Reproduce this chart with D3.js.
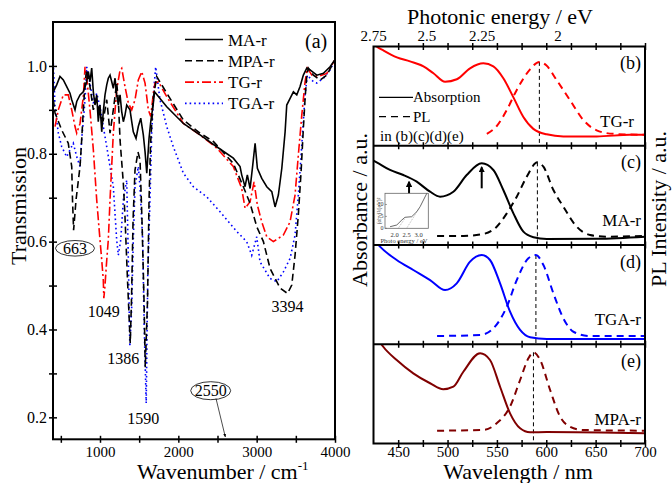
<!DOCTYPE html>
<html lang="en">
<head>
<meta charset="utf-8">
<title>FTIR / Absorption / PL</title>
<script src="https://cdn.jsdelivr.net/npm/d3@7"></script>
<style>
    body, html { margin: 0; padding: 0; background: #fff; }
    svg { display: block; font-family: "Liberation Serif", "Times New Roman", serif; }
    .frame { fill: none; stroke: #000; stroke-width: 2px; }
    .axis path { display: none; }
    .axis line { stroke: #000; stroke-width: 1.5px; }
    .axis text { font-size: 16px; font-family: "Liberation Serif", serif; fill: #000; }
    .xaxis text { font-size: 15px; }
    .title { font-size: 22px; fill: #000; }
    .lbl { font-size: 17px; fill: #000; }
    .ann { font-size: 16px; fill: #000; }
</style>
</head>
<body>
<script>
// ---- left panel: FTIR spectra [wavenumber, transmission] ----
var maIR = [[404,0.941],[447,0.957],[489,0.976],[532,0.968],[575,0.953],[617,0.938],[639,0.923],[681,0.900],[703,0.919],[745,0.934],[787,0.941],[830,0.964],[851,0.987],[872,0.964],[894,0.995],[915,0.941],[936,0.911],[958,0.934],[978,0.873],[1000,0.911],[1022,0.850],[1042,0.896],[1064,0.934],[1086,0.957],[1106,0.972],[1128,0.979],[1150,0.964],[1170,0.949],[1192,0.972],[1213,0.934],[1234,0.911],[1256,0.934],[1277,0.896],[1298,0.873],[1319,0.888],[1341,0.911],[1383,0.900],[1405,0.873],[1425,0.850],[1460,0.835],[1489,0.862],[1520,0.881],[1553,0.843],[1575,0.805],[1597,0.756],[1626,0.835],[1648,0.873],[1681,0.915],[1696,0.941],[1852,0.907],[2064,0.869],[2277,0.843],[2490,0.816],[2702,0.790],[2788,0.771],[2809,0.752],[2852,0.725],[2881,0.752],[2916,0.721],[2950,0.774],[2980,0.824],[3009,0.767],[3065,0.744],[3129,0.725],[3193,0.714],[3235,0.679],[3277,0.706],[3321,0.767],[3363,0.850],[3384,0.911],[3427,0.926],[3469,0.941],[3512,0.934],[3554,0.953],[3596,0.979],[3640,0.995],[3682,0.991],[3768,0.979],[3852,0.983],[3937,0.998],[4000,1.014]];
var mpaIR = [[404,0.923],[426,0.893],[511,0.854],[595,0.824],[639,0.771],[649,0.695],[663,0.626],[694,0.695],[745,0.771],[766,0.831],[787,0.900],[809,0.961],[830,0.991],[872,0.953],[915,0.900],[958,0.923],[1000,0.885],[1042,0.877],[1086,0.923],[1128,0.847],[1170,0.900],[1213,0.961],[1234,0.923],[1256,0.831],[1298,0.733],[1319,0.657],[1351,0.513],[1386,0.369],[1402,0.467],[1422,0.649],[1447,0.763],[1485,0.804],[1511,0.786],[1536,0.649],[1562,0.467],[1578,0.314],[1607,0.467],[1626,0.695],[1645,0.820],[1677,0.923],[1724,0.976],[1852,0.938],[2064,0.877],[2277,0.847],[2447,0.828],[2702,0.778],[2830,0.725],[2916,0.687],[3001,0.634],[3086,0.600],[3171,0.539],[3299,0.494],[3394,0.482],[3448,0.501],[3490,0.569],[3532,0.661],[3567,0.759],[3596,0.858],[3618,0.926],[3640,0.979],[3660,0.995],[3724,0.979],[3810,0.968],[3895,0.979],[4000,1.014]];
var tgIR = [[426,0.862],[468,0.900],[532,0.934],[595,0.934],[639,0.900],[681,0.862],[703,0.847],[745,0.869],[787,0.930],[809,0.998],[838,0.961],[872,0.900],[915,0.809],[958,0.695],[1000,0.604],[1022,0.558],[1042,0.513],[1049,0.471],[1064,0.501],[1086,0.558],[1106,0.604],[1128,0.695],[1170,0.847],[1213,0.945],[1256,0.991],[1277,0.995],[1319,0.953],[1362,0.915],[1405,0.900],[1447,0.923],[1489,0.968],[1533,0.987],[1575,0.961],[1617,0.900],[1648,0.885],[1681,0.938],[1702,0.961],[1745,0.964],[1852,0.930],[2064,0.869],[2277,0.843],[2490,0.813],[2702,0.771],[2809,0.721],[2852,0.676],[2916,0.691],[2967,0.736],[3009,0.683],[3065,0.645],[3129,0.611],[3213,0.600],[3341,0.615],[3426,0.645],[3490,0.706],[3532,0.797],[3576,0.888],[3618,0.964],[3647,0.995],[3704,0.979],[3788,0.976],[3895,0.983],[4000,1.014]];
var tgaIR = [[404,1.006],[426,0.907],[468,0.847],[511,0.816],[575,0.793],[617,0.809],[659,0.824],[703,0.793],[745,0.771],[766,0.831],[809,0.923],[830,0.998],[872,0.961],[915,0.915],[958,0.938],[1000,0.907],[1042,0.862],[1086,0.816],[1128,0.771],[1170,0.725],[1213,0.604],[1234,0.569],[1265,0.604],[1298,0.695],[1341,0.740],[1362,0.558],[1381,0.361],[1405,0.452],[1425,0.604],[1447,0.725],[1489,0.771],[1511,0.725],[1545,0.604],[1562,0.421],[1590,0.232],[1610,0.528],[1638,0.695],[1660,0.847],[1690,0.953],[1711,0.998],[1766,0.923],[1852,0.862],[1936,0.816],[2064,0.756],[2192,0.725],[2363,0.702],[2533,0.668],[2746,0.623],[2873,0.600],[2937,0.569],[3001,0.611],[3043,0.554],[3171,0.516],[3257,0.509],[3341,0.531],[3427,0.562],[3490,0.615],[3532,0.706],[3576,0.820],[3618,0.934],[3647,0.979],[3724,0.964],[3768,0.961],[3852,0.972],[3937,0.991],[4000,1.014]];
var irNames = ["MA-r", "MPA-r", "TG-r", "TGA-r"];
var irTicks = [500, 1000, 1500, 2000, 2500, 3000, 3500, 4000];
var tTicks = [0.2, 0.3, 0.4, 0.5, 0.6, 0.7, 0.8, 0.9, 1.0];

// ---- right panels: [wavelength nm, normalised intensity] ----
var tgAbs = [[425,1.03],[428.2,1.0],[435,0.96],[448.7,0.89],[462,0.85],[475.6,0.80],[485.7,0.73],[497.5,0.645],[509.4,0.67],[522.8,0.78],[536.3,0.83],[546.4,0.80],[556.5,0.68],[566.6,0.49],[576.8,0.29],[586.9,0.17],[600.4,0.115],[617.3,0.094],[651,0.094],[684.8,0.11],[700,0.11]];
var tgPL = [[539.8,0.12],[550,0.2],[560,0.36],[570,0.56],[583.6,0.77],[593,0.845],[600,0.81],[610.6,0.66],[624,0.46],[637.5,0.26],[651,0.155],[668,0.12],[700,0.11]];
var maAbs = [[425,0.85],[428.2,0.833],[441.7,0.756],[455.2,0.705],[468.8,0.638],[482.3,0.537],[492.4,0.487],[505.9,0.537],[519.4,0.705],[534.6,0.823],[546.4,0.756],[556.5,0.554],[566.7,0.319],[576.8,0.134],[587,0.078],[600.5,0.06],[651.2,0.063],[700,0.084]];
var maPL = [[489.4,0.091],[516.3,0.091],[536.3,0.111],[549.8,0.184],[560,0.319],[570.1,0.487],[580.2,0.688],[591,0.833],[597.1,0.789],[607.2,0.554],[617.3,0.386],[630.9,0.184],[644.4,0.101],[661.3,0.084],[700,0.091]];
var tgaAbs = [[425,1.06],[431.6,0.983],[448.5,0.849],[465.3,0.748],[482.3,0.647],[497.5,0.547],[509.3,0.614],[522.8,0.832],[534.6,0.899],[543,0.849],[553.2,0.614],[563.3,0.328],[573.5,0.144],[583.6,0.07],[600.5,0.053],[700,0.053]];
var tgaPL = [[489.4,0.083],[533,0.093],[546.4,0.16],[560,0.378],[570.1,0.647],[581.9,0.866],[589.4,0.899],[597.1,0.798],[607.2,0.513],[617.3,0.261],[627.5,0.126],[644.4,0.083],[700,0.083]];
var mpaAbs = [[431,1.03],[434.9,0.975],[448.5,0.841],[465.3,0.707],[482.3,0.607],[495.7,0.546],[505.9,0.572],[516,0.723],[533,0.909],[543,0.841],[553.2,0.572],[563.3,0.304],[573.5,0.153],[583.6,0.113],[600.5,0.116],[700,0.103]];
var mpaPL = [[489.4,0.129],[536.3,0.136],[549.8,0.204],[563.3,0.372],[573.5,0.64],[581.9,0.858],[587,0.919],[593.8,0.841],[603.9,0.539],[614,0.27],[624.1,0.169],[637.6,0.136],[700,0.129]];
var panelNames = ["TG-r", "MA-r", "TGA-r", "MPA-r"];
var panelTags = ["(b)", "(c)", "(d)", "(e)"];
var plPeaks = [593, 591, 589.5, 587];
var nmTicks = [450, 475, 500, 525, 550, 575, 600, 625, 650, 675, 700];
var eVTicks = [2.75, 2.5, 2.25, 2];
var eVAsNm = [425, 479, 535, 612];   // where the top labels sit on the nm axis
var arrowNm = [461, 534.6];

// ---- inset of (c): (alpha h nu)^2 vs photon energy ----
var insetCurve = [[1.81,0.67],[2.09,1.39],[2.30,3.49],[2.43,4.62],[2.71,4.87],[2.92,6.97],[3.06,9.08],[3.20,11.9],[3.34,14.7]];
var insetFit1 = [[2.15,0],[2.43,4.2]];
var insetFit2 = [[2.50,0],[3.06,9.1]];

var W = 672, H = 483;
var svg = d3.select("body").append("svg").attr("width", W).attr("height", H);

var defs = svg.append("defs");
defs.append("marker").attr("id", "ah").attr("viewBox", "0 0 10 10")
    .attr("refX", 9).attr("refY", 5).attr("markerWidth", 5).attr("markerHeight", 5)
    .attr("orient", "auto")
    .append("path").attr("d", "M0,1L10,5L0,9Z").attr("fill", "#000");
defs.append("marker").attr("id", "ahBig").attr("viewBox", "0 0 10 10")
    .attr("refX", 8).attr("refY", 5).attr("markerWidth", 3.2).attr("markerHeight", 3.2)
    .attr("orient", "auto")
    .append("path").attr("d", "M0,0L10,5L0,10Z").attr("fill", "#000");

// ================= LEFT PANEL =================
var xL = d3.scaleLinear().domain([400, 4000]).range([53, 335]);
var yL = d3.scaleLinear().domain([0.15, 1.1]).range([439.3, 22]);

defs.append("clipPath").attr("id", "clipL").append("rect")
    .attr("x", 53).attr("y", 22).attr("width", 282).attr("height", 417.3);

var lineL = d3.line().x(function(d) { return xL(d[0]); }).y(function(d) { return yL(d[1]); });

var irStyles = [
    {data: maIR,  color: "#000", dash: null,          w: 1.6},
    {data: mpaIR, color: "#000", dash: "7,4",         w: 1.6},
    {data: tgIR,  color: "#ff0000", dash: "9,3,2,3",  w: 1.6},
    {data: tgaIR, color: "#0000ff", dash: "1.6,3",    w: 1.6}
];

var gL = svg.append("g").attr("clip-path", "url(#clipL)");
// draw back to front so the solid MA-r trace sits on top
[3, 2, 1, 0].forEach(function(i) {
    var s = irStyles[i];
    gL.append("path").datum(s.data)
        .attr("d", lineL)
        .attr("fill", "none")
        .attr("stroke", s.color)
        .attr("stroke-width", s.w)
        .attr("stroke-dasharray", s.dash);
});

svg.append("rect").attr("class", "frame")
    .attr("x", 53).attr("y", 22).attr("width", 282).attr("height", 417.3);

var axL = svg.append("g").attr("class", "axis xaxis").attr("transform", "translate(0,439.3)")
    .call(d3.axisBottom(xL).tickValues(irTicks).tickFormat(function(d) { return d % 1000 ? "" : d; }));
axL.selectAll(".tick line").attr("y1", -3.5).attr("y2", 3.5);
axL.selectAll(".tick text").attr("y", 7);

var ayL = svg.append("g").attr("class", "axis").attr("transform", "translate(53,0)")
    .call(d3.axisLeft(yL).tickValues(tTicks).tickFormat(function(d) {
        return Math.round(d * 10) % 2 ? "" : d3.format(".1f")(d);
    }));
ayL.selectAll(".tick line").attr("x1", -4).attr("x2", 4);
ayL.selectAll(".tick text").attr("x", -6);

svg.append("text").attr("class", "title")
    .attr("transform", "translate(26,206) rotate(-90)")
    .attr("text-anchor", "middle").text("Transmission");

var xt = svg.append("text").attr("class", "title").attr("font-size", 21).attr("x", 137).attr("y", 479);
xt.append("tspan").text("Wavenumber / cm");
xt.append("tspan").attr("dy", -9).attr("font-size", 13).text("-1");

// legend
irStyles.forEach(function(s, i) {
    var y = 39.5 + i * 21.3;
    svg.append("line").attr("x1", 185).attr("x2", 223).attr("y1", y).attr("y2", y)
        .attr("stroke", s.color).attr("stroke-width", s.w).attr("stroke-dasharray", s.dash);
    svg.append("text").attr("class", "lbl").attr("x", 228).attr("y", y + 6).text(irNames[i]);
});
svg.append("text").attr("x", 305).attr("y", 48).attr("font-size", 20).text("(a)");

// band annotations
svg.append("ellipse").attr("cx", xL(663) + 1.4).attr("cy", 248.3).attr("rx", 19.5).attr("ry", 7.8)
    .attr("fill", "none").attr("stroke", "#000").attr("stroke-width", 0.8);
svg.append("text").attr("class", "ann").attr("x", xL(663) + 1.4).attr("y", 253.8)
    .attr("text-anchor", "middle").attr("font-size", 15).text("663");
svg.append("text").attr("class", "ann").attr("x", xL(1049)).attr("y", 317.2).attr("text-anchor", "middle").text("1049");
svg.append("text").attr("class", "ann").attr("x", xL(1386) - 7).attr("y", 363.8).attr("text-anchor", "middle").text("1386");
svg.append("text").attr("class", "ann").attr("x", xL(1590) - 3).attr("y", 424).attr("text-anchor", "middle").text("1590");
svg.append("text").attr("class", "ann").attr("x", xL(3394)).attr("y", 312.2).attr("text-anchor", "middle").text("3394");
svg.append("ellipse").attr("cx", 210.7).attr("cy", 390.7).attr("rx", 20).attr("ry", 9)
    .attr("fill", "none").attr("stroke", "#000").attr("stroke-width", 0.8);
svg.append("text").attr("class", "ann").attr("x", 210.7).attr("y", 396.3)
    .attr("text-anchor", "middle").attr("font-size", 15).text("2550");
svg.append("line").attr("x1", 216).attr("y1", 398.5).attr("x2", xL(2600)).attr("y2", 437)
    .attr("stroke", "#000").attr("stroke-width", 0.7).attr("marker-end", "url(#ah)");

// ================= RIGHT PANELS =================
var xR = d3.scaleLinear().domain([425, 700]).range([373.5, 645]);
var pTop = 46.5, pH = 99.25;
var energyToNm = d3.scaleLinear().domain(eVTicks).range(eVAsNm);

var panels = [
    {abs: tgAbs,  pl: tgPL,  color: "#ff0000"},
    {abs: maAbs,  pl: maPL,  color: "#000000"},
    {abs: tgaAbs, pl: tgaPL, color: "#0000ff"},
    {abs: mpaAbs, pl: mpaPL, color: "#800000"}
];

panels.forEach(function(p, i) {
    var top = pTop + i * pH;
    var y = d3.scaleLinear().domain([0, 1]).range([top + pH, top]);
    var line = d3.line().curve(d3.curveMonotoneX)
        .x(function(d) { return xR(d[0]); }).y(function(d) { return y(d[1]); });

    defs.append("clipPath").attr("id", "clipP" + i).append("rect")
        .attr("x", 373.5).attr("y", top).attr("width", 271.5).attr("height", pH);
    var g = svg.append("g").attr("clip-path", "url(#clipP" + i + ")");

    // PL peak marker
    var peakV = d3.max(p.pl, function(d) { return d[1]; });
    g.append("line").attr("x1", xR(plPeaks[i])).attr("x2", xR(plPeaks[i]))
        .attr("y1", y(peakV)).attr("y2", top + pH)
        .attr("stroke", "#000").attr("stroke-width", 1).attr("stroke-dasharray", "4,3");

    g.append("path").datum(p.abs).attr("d", line)
        .attr("fill", "none").attr("stroke", p.color).attr("stroke-width", 2);
    g.append("path").datum(p.pl).attr("d", line)
        .attr("fill", "none").attr("stroke", p.color).attr("stroke-width", 2)
        .attr("stroke-dasharray", "7,5");

    svg.append("text").attr("x", 641).attr("y", top + 22.5).attr("font-size", 18)
        .attr("text-anchor", "end").text(panelTags[i]);
    svg.append("text").attr("class", "lbl").attr("x", i === 0 ? 634 : 641).attr("y", top + pH - 19)
        .attr("text-anchor", "end").text(panelNames[i]);

    // ticks along the upper edge of every sub-panel
    var ax = svg.append("g").attr("class", "axis").attr("transform", "translate(0," + top + ")")
        .call(d3.axisTop(xR).tickValues(nmTicks).tickFormat(""));
    ax.selectAll(".tick line").attr("y1", -3.5).attr("y2", 3.5);
    if (i > 0) {
        svg.append("line").attr("x1", 373.5).attr("x2", 645).attr("y1", top).attr("y2", top)
            .attr("stroke", "#000").attr("stroke-width", 2);
    }

    if (i === 0) {
        // legend for line styles
        var lg = [{t: "Absorption", d: null, yy: 97.3}, {t: "PL", d: "7,5", yy: 116.7}];
        lg.forEach(function(l) {
            svg.append("line").attr("x1", 379).attr("x2", 413).attr("y1", l.yy).attr("y2", l.yy)
                .attr("stroke", "#000").attr("stroke-width", 1.3).attr("stroke-dasharray", l.d);
            svg.append("text").attr("x", 413).attr("y", l.yy + 5).attr("font-size", 15).text(l.t);
        });
        svg.append("text").attr("x", 380).attr("y", 141).attr("font-size", 15).text("in (b)(c)(d)(e)");
    }

    if (i === 1) {
        // arrows at the excitonic features
        var absAt = d3.scaleLinear().domain(p.abs.map(function(d) { return d[0]; }))
            .range(p.abs.map(function(d) { return d[1]; }));
        arrowNm.forEach(function(nm) {
            var yc = y(absAt(nm));
            svg.append("line").attr("x1", xR(nm)).attr("x2", xR(nm))
                .attr("y1", yc + 25).attr("y2", yc + 4)
                .attr("stroke", "#000").attr("stroke-width", 2).attr("marker-end", "url(#ahBig)");
        });

        // inset
        var ix = d3.scaleLinear().domain([1.6, 3.4]).range([385, 428.3]);
        var iy = d3.scaleLinear().domain([0, 14.7]).range([228.3, 193.3]);
        var il = d3.line().x(function(d) { return ix(d[0]); }).y(function(d) { return iy(d[1]); });
        var gi = svg.append("g");
        gi.append("rect").attr("x", 385).attr("y", 193.3).attr("width", 43.3).attr("height", 35)
            .attr("fill", "#fff").attr("stroke", "#666").attr("stroke-width", 0.8);
        gi.append("path").datum(insetCurve).attr("d", il).attr("fill", "none")
            .attr("stroke", "#444").attr("stroke-width", 0.8);
        [insetFit1, insetFit2].forEach(function(f) {
            gi.append("path").datum(f).attr("d", il).attr("fill", "none")
                .attr("stroke", "#888").attr("stroke-width", 0.6).attr("stroke-dasharray", "1,1");
        });
        [0, 5, 10].forEach(function(v) {
            gi.append("text").attr("x", 383.5).attr("y", iy(v) + 2).attr("font-size", 6)
                .attr("text-anchor", "end").attr("fill", "#333").text(v);
            gi.append("line").attr("x1", 385).attr("x2", 387).attr("y1", iy(v)).attr("y2", iy(v))
                .attr("stroke", "#666").attr("stroke-width", 0.6);
        });
        [2.0, 2.5, 3.0].forEach(function(v) {
            gi.append("text").attr("x", ix(v)).attr("y", 236.5).attr("font-size", 6.5)
                .attr("text-anchor", "middle").attr("fill", "#333").text(d3.format(".1f")(v));
        });
        gi.append("text").attr("x", 404).attr("y", 243).attr("font-size", 6.5)
            .attr("text-anchor", "middle").attr("fill", "#333").text("Photo energy / eV");
        gi.append("text").attr("transform", "translate(381,211) rotate(-90)").attr("font-size", 5.5)
            .attr("text-anchor", "middle").attr("fill", "#333").text("(\u03b1h\u03bd)\u00b2/(eV)\u00b2");
    }
});

svg.append("rect").attr("class", "frame")
    .attr("x", 373.5).attr("y", pTop).attr("width", 271.5).attr("height", 4 * pH);

var axR = svg.append("g").attr("class", "axis xaxis").attr("transform", "translate(0," + (pTop + 4 * pH) + ")")
    .call(d3.axisBottom(xR).tickValues(nmTicks).tickFormat(function(d) { return d % 50 ? "" : d; }));
axR.selectAll(".tick line").attr("y1", -3.5).attr("y2", 3.5);
axR.selectAll(".tick text").attr("y", 3);

// photon energy labels on top
svg.selectAll(".ev").data(eVTicks).enter().append("text")
    .attr("class", "ev").attr("x", function(d) { return xR(energyToNm(d)); }).attr("y", 41)
    .attr("text-anchor", "middle").attr("font-size", 15)
    .text(function(d) { return d; });

svg.append("text").attr("class", "title").attr("x", 500).attr("y", 24)
    .attr("text-anchor", "middle").text("Photonic energy / eV");
svg.append("text").attr("class", "title").attr("x", 518).attr("y", 479)
    .attr("text-anchor", "middle").attr("font-size", 21).text("Wavelength / nm");
svg.append("text").attr("class", "title")
    .attr("transform", "translate(367,210) rotate(-90)")
    .attr("text-anchor", "middle").text("Absorbance / a.u.");
svg.append("text").attr("class", "title")
    .attr("transform", "translate(666,209) rotate(-90)")
    .attr("text-anchor", "middle").text("PL Intensity / a.u.");
</script>
</body>
</html>
